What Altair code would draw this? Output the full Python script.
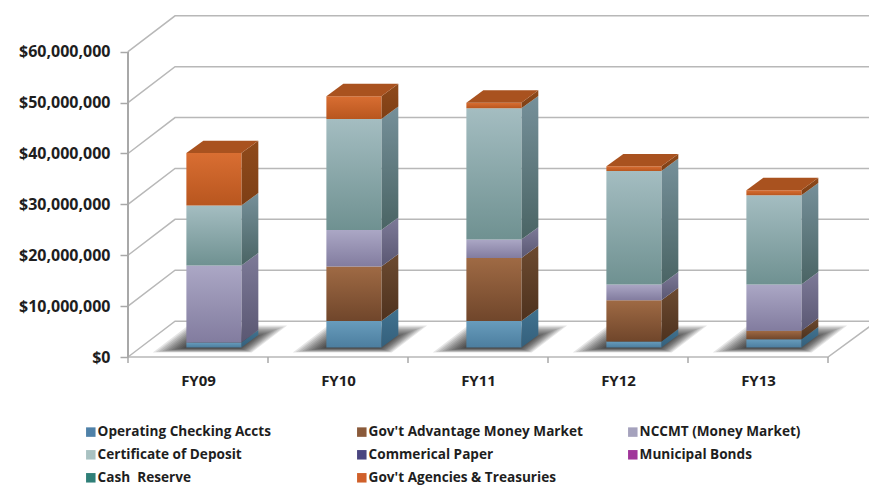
import altair as alt
import pandas as pd

fiscal_years = ["FY09", "FY10", "FY11", "FY12", "FY13"]
legend_order = ["Operating Checking Accts", "Gov't Advantage Money Market", "NCCMT (Money Market)",
                "Certificate of Deposit", "Commerical Paper", "Municipal Bonds",
                "Cash \u00a0Reserve", "Gov't Agencies & Treasuries"]
legend_colors = ["#4f81a8", "#8a5a3a", "#a5a2bd", "#a9c2c2", "#4a4580", "#a0359a", "#2f7f78", "#d0602a"]

operating = [1.0e6, 5.2e6, 5.2e6, 1.2e6, 1.6e6]
advantage = [0, 10.7e6, 12.4e6, 8.1e6, 1.7e6]
nccmt = [15.1e6, 7.2e6, 3.6e6, 3.1e6, 9.1e6]
deposit = [11.8e6, 21.8e6, 25.8e6, 22.3e6, 17.5e6]
agencies = [10.3e6, 4.5e6, 1.1e6, 0.9e6, 1.0e6]

y_ticks = [0, 1e7, 2e7, 3e7, 4e7, 5e7, 6e7]
x_label_pos = [0.5, 1.5, 2.5, 3.5, 4.5]

FONT = "Open Sans"
TEXT = "#1e1e1e"
GRID = "#b8b8b8"

# projection of the box: how far one step into the depth moves things in data units
wall_dx, wall_dy = 0.336, 7.05e6
bar_dx, bar_dy = 0.121, 2.45e6
bar_left, bar_w = 0.417, 0.393
bar_base = 1.87e6
x_end = 5.35
x_max, y_max = 741 / 140, 67.02e6

series = [
    ("Operating Checking Accts", operating, ("#689cbc", "#4c7e9f"), ("#41728f", "#34607c")),
    ("Gov't Advantage Money Market", advantage, ("#9f6a44", "#70462b"), ("#6c4a30", "#4e321e")),
    ("NCCMT (Money Market)", nccmt, ("#aba7c5", "#827c9f"), ("#7d7a98", "#5a5772")),
    ("Certificate of Deposit", deposit, ("#a4bdc1", "#6f9191"), ("#76909a", "#4a6464")),
    ("Gov't Agencies & Treasuries", agencies, ("#d96e32", "#b8561f"), ("#8f4a1b", "#7e3f15")),
]

def grad(pair):
    return alt.Gradient(gradient="linear", x1=0, x2=0, y1=0, y2=1,
                        stops=[alt.GradientStop(color=pair[0], offset=0),
                               alt.GradientStop(color=pair[1], offset=1)])

XS = alt.Scale(domain=[0, x_max], nice=False)
YS = alt.Scale(domain=[0, y_max], nice=False)
AX = alt.Axis(values=x_label_pos, ticks=False, domain=False, grid=False,
              labelExpr="['FY09','FY10','FY11','FY12','FY13'][floor(datum.value)]",
              labelFont=FONT, labelFontSize=15, labelFontWeight="bold",
              labelColor=TEXT, labelPadding=16)
AY = alt.Axis(values=y_ticks, format="$,.0f", domain=False, grid=False, tickSize=8,
              tickColor="#a8a8a8", tickWidth=1.5, labelFont=FONT, labelFontSize=16,
              labelFontWeight="bold", labelColor=TEXT, labelPadding=10)
X = alt.X("x:Q", scale=XS, axis=AX, title=None)
Y = alt.Y("y:Q", scale=YS, axis=AY, title=None)
X_ns = alt.X("x:Q", scale=XS, axis=AX, title=None, stack=None)
Y_ns = alt.Y("y:Q", scale=YS, axis=AY, title=None, stack=None)

# walls and floor
wall_rows = []
for v in y_ticks:
    wall_rows += [dict(x=0, y=v, k=v, o=0),
                  dict(x=wall_dx, y=v + wall_dy, k=v, o=1),
                  dict(x=x_end, y=v + wall_dy, k=v, o=2)]
wall = alt.Chart(pd.DataFrame(wall_rows)).mark_line(color=GRID, strokeWidth=1.5).encode(
    X, Y, detail="k:N", order="o:Q")

front_floor = alt.Chart(pd.DataFrame([dict(x=0, y=0, o=0), dict(x=5, y=0, o=1),
                                      dict(x=x_end, y=wall_dy, o=2)])).mark_line(
    color=GRID, strokeWidth=1.5).encode(X, Y, order="o:Q")

left_axis = alt.Chart(pd.DataFrame([dict(x=0, y=0, y2=y_ticks[-1])])).mark_rule(
    color="#a8a8a8", strokeWidth=2).encode(X, Y, y2="y2:Q")

x_ticks = alt.Chart(pd.DataFrame(dict(x=[0, 1, 2, 3, 4, 5]))).mark_rule(
    color="#a8a8a8", strokeWidth=1.5).encode(X, y=alt.value(341), y2=alt.value(347))

# soft floor shadows: nested translucent parallelograms
shadow_rows = []
levels = 12
for i in range(5):
    x0 = i + bar_left
    for k in range(levels):
        t = k / (levels - 1)
        low = 0.9e6 + t * 0.9e6
        high = 6.2e6 - t * 2.6e6
        left_b = x0 - 0.24 * (1 - t)
        right_t = x0 + 0.72 - 0.26 * t
        skew = (high - low) / wall_dy * wall_dx
        shadow_rows += [dict(y=low, x=left_b, x2=right_t - skew, k=f"{i}-{k}"),
                        dict(y=high, x=left_b + skew, x2=right_t, k=f"{i}-{k}")]
shadows = alt.Chart(pd.DataFrame(shadow_rows)).mark_area(
    orient="horizontal", color="#000000", opacity=0.1).encode(
    y=Y, x=X_ns, x2="x2:Q", detail="k:N")

# the bars
layers = []
bottom = [bar_base] * 5
for name, vals, front_c, side_c in series:
    f_rows, s_rows = [], []
    for i, v in enumerate(vals):
        if v <= 0:
            continue
        x0, x1 = i + bar_left, i + bar_left + bar_w
        lo, hi = bottom[i], bottom[i] + v
        f_rows.append(dict(x=x0, x2=x1, y=lo, y2=hi))
        s_rows += [dict(x=x1, y=lo, y2=hi, k=i),
                   dict(x=x1 + bar_dx, y=lo + bar_dy, y2=hi + bar_dy, k=i)]
        bottom[i] = hi
    layers.append(alt.Chart(pd.DataFrame(s_rows)).mark_area(color=grad(side_c)).encode(
        X, Y_ns, y2="y2:Q", detail="k:N"))
    layers.append(alt.Chart(pd.DataFrame(f_rows)).mark_rect(color=grad(front_c)).encode(
        X, x2="x2:Q", y=Y, y2="y2:Q"))

top_rows = []
for i in range(5):
    x0, x1 = i + bar_left, i + bar_left + bar_w
    top_rows += [dict(y=bottom[i], x=x0, x2=x1, k=i),
                 dict(y=bottom[i] + bar_dy, x=x0 + bar_dx, x2=x1 + bar_dx, k=i)]
tops = alt.Chart(pd.DataFrame(top_rows)).mark_area(orient="horizontal", color="#a9521f").encode(
    y=Y, x=X_ns, x2="x2:Q", detail="k:N")

# legend carrier
legend_layer = alt.Chart(pd.DataFrame(dict(s=legend_order, x=[0.0] * 8, y=[0.0] * 8))).mark_square(
    opacity=0, size=1).encode(
    X, Y,
    color=alt.Color("s:N", scale=alt.Scale(domain=legend_order, range=legend_colors),
                    legend=alt.Legend(title=None, orient="none", legendX=-44, legendY=409,
                                      direction="horizontal", columns=3, gridAlign="all",
                                      columnPadding=43, rowPadding=8,
                                      symbolType="square", symbolSize=90, symbolOpacity=1,
                                      symbolStrokeWidth=0,
                                      labelFont=FONT, labelFontSize=13.6, labelFontWeight="bold",
                                      labelColor=TEXT, labelLimit=300, labelOffset=0)),
)

chart = alt.layer(wall, front_floor, left_axis, x_ticks, shadows, *layers, tops, legend_layer).properties(
    width=741, height=341,
    autosize=alt.AutoSizeParams(type="none"),
    padding={"left": 120, "top": 8, "right": 0, "bottom": 130},
).configure_view(stroke=None)

chart.save("out.html", embed_options={"renderer": "svg", "actions": False})
